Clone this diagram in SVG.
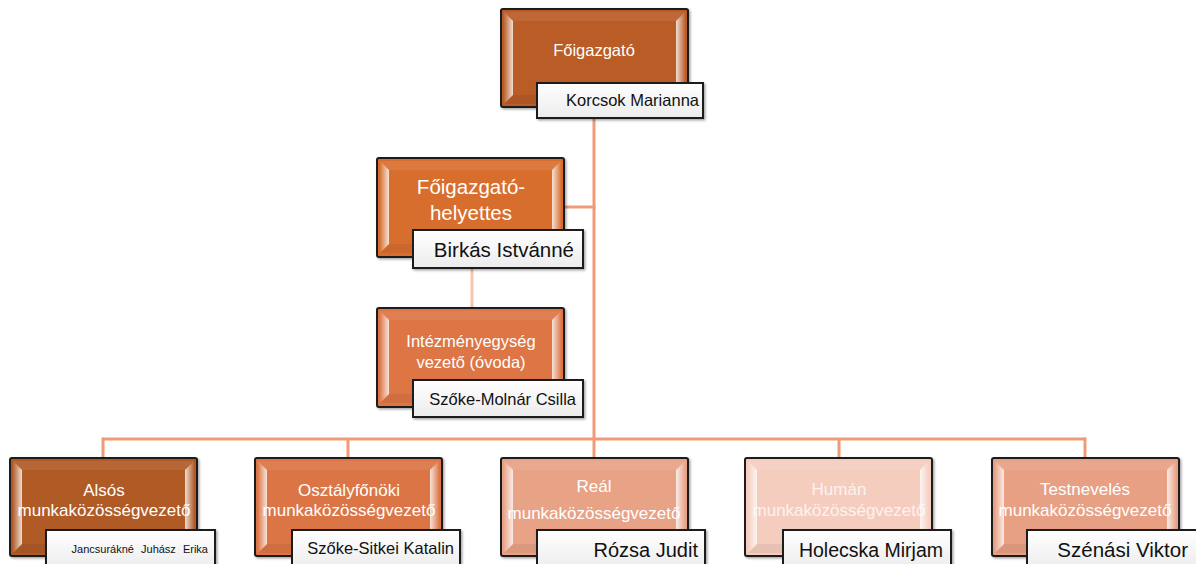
<svg xmlns="http://www.w3.org/2000/svg" xmlns:xlink="http://www.w3.org/1999/xlink" width="1196" height="564" viewBox="0 0 1196 564">
<defs>
<style>
.box{stroke:#1a1a1a;stroke-width:2;filter:url(#sh)}
.name{fill:url(#ng);stroke:#1a1a1a;stroke-width:2;filter:url(#sh)}
.t{font-family:"Liberation Sans",Arial,sans-serif;fill:#ffffff;text-anchor:middle}
.n{font-family:"Liberation Sans",Arial,sans-serif;fill:#111111;text-anchor:end}
.ln{stroke:#F19B76;stroke-width:3;fill:none}
.lp{stroke:#F6C4AE;stroke-width:3;fill:none}
</style>
<linearGradient id="ng" x1="0" y1="0" x2="0" y2="1">
<stop offset="0" stop-color="#ffffff"/>
<stop offset="1" stop-color="#ececec"/>
</linearGradient>
<linearGradient id="lf" x1="0" y1="0" x2="1" y2="0">
<stop offset="0" stop-color="#ffffff" stop-opacity="0.05"/>
<stop offset="1" stop-color="#ffffff" stop-opacity="0.8"/>
</linearGradient>
<linearGradient id="rf" x1="0" y1="0" x2="1" y2="0">
<stop offset="0" stop-color="#ffffff" stop-opacity="0.8"/>
<stop offset="1" stop-color="#ffffff" stop-opacity="0.05"/>
</linearGradient>
<filter id="sh" x="-10%" y="-10%" width="130%" height="130%">
<feDropShadow dx="1.5" dy="1.5" stdDeviation="1.2" flood-color="#000" flood-opacity="0.35"/>
</filter>
<g id="bevel">
<polygon points="3,3 12,12 12,86 3,95" fill="url(#lf)"/>
<polygon points="184,3 175,12 175,86 184,95" fill="url(#rf)"/>
<polygon points="3,3 184,3 175,12 12,12" fill="#ffffff" fill-opacity="0.08"/>
<polygon points="3,95 184,95 175,86 12,86" fill="#000000" fill-opacity="0.06"/>
</g>
</defs>
<rect width="1196" height="564" fill="#ffffff"/>

<g id="connectors">
<line class="ln" x1="594" y1="117" x2="594" y2="458"/>
<line class="ln" x1="564" y1="207" x2="595.5" y2="207"/>
<line class="lp" x1="472" y1="268" x2="472" y2="308"/>
<line class="ln" x1="103" y1="439" x2="1086" y2="439"/>
<line class="ln" x1="103" y1="437.5" x2="103" y2="458"/>
<line class="ln" x1="348" y1="439" x2="348" y2="458"/>
<line class="ln" x1="839" y1="439" x2="839" y2="458"/>
<line class="ln" x1="1085" y1="437.5" x2="1085" y2="458"/>
</g>

<g id="n-foigazgato">
<rect class="box" x="501" y="9" width="187" height="98" rx="2" fill="#B95C26"/>
<use xlink:href="#bevel" x="501" y="9"/>
<text class="t" x="594" y="56" font-size="16.5">Főigazgató</text>
<rect class="name" x="537" y="83" width="166" height="35"/>
<text class="n" x="699" y="106" font-size="16.5">Korcsok Marianna</text>
</g>

<g id="n-helyettes">
<rect class="box" x="377" y="158" width="187" height="99" rx="2" fill="#D86E2D"/>
<use xlink:href="#bevel" x="377" y="158"/>
<text class="t" x="471" y="194" font-size="20.5">Főigazgató-</text>
<text class="t" x="471" y="220" font-size="20.5">helyettes</text>
<rect class="name" x="413" y="230" width="170" height="38"/>
<text class="n" x="574" y="257" font-size="20.5">Birkás Istvánné</text>
</g>

<g id="n-ovoda">
<rect class="box" x="377" y="308" width="187" height="99" rx="2" fill="#DD7445"/>
<use xlink:href="#bevel" x="377" y="308"/>
<text class="t" x="471" y="347" font-size="16.5">Intézményegység</text>
<text class="t" x="471" y="368" font-size="16.5">vezető (óvoda)</text>
<rect class="name" x="413" y="380" width="170" height="37"/>
<text class="n" x="576" y="405" font-size="16.5">Szőke-Molnár Csilla</text>
</g>

<g id="n-also">
<rect class="box" x="10" y="458" width="187" height="98" rx="2" fill="#B05A25"/>
<use xlink:href="#bevel" x="10" y="458"/>
<text class="t" x="104" y="496" font-size="17">Alsós</text>
<text class="t" x="104" y="516" font-size="17">munkaközösségvezető</text>
<rect class="name" x="46" y="530" width="169" height="40"/>
<text class="n" x="208" y="553" font-size="11" word-spacing="4">Jancsurákné Juhász Erika</text>
</g>

<g id="n-osztalyfonoki">
<rect class="box" x="255" y="458" width="187" height="98" rx="2" fill="#DC7445"/>
<use xlink:href="#bevel" x="255" y="458"/>
<text class="t" x="349" y="496" font-size="17">Osztályfőnöki</text>
<text class="t" x="349" y="516" font-size="17">munkaközösségvezető</text>
<rect class="name" x="292" y="530" width="168" height="40"/>
<text class="n" x="454" y="554" font-size="16.5">Szőke-Sitkei Katalin</text>
</g>

<g id="n-real">
<rect class="box" x="501" y="458" width="187" height="98" rx="2" fill="#E8A286"/>
<use xlink:href="#bevel" x="501" y="458"/>
<text class="t" x="594" y="492" font-size="17">Reál</text>
<text class="t" x="594" y="519" font-size="17">munkaközösségvezető</text>
<rect class="name" x="537" y="530" width="168" height="40"/>
<text class="n" x="698" y="557" font-size="20">Rózsa Judit</text>
</g>

<g id="n-human">
<rect class="box" x="745" y="458" width="187" height="98" rx="2" fill="#F5CDBF"/>
<use xlink:href="#bevel" x="745" y="458"/>
<text class="t" x="839" y="495" font-size="17" fill-opacity="0.75">Humán</text>
<text class="t" x="839" y="516" font-size="17" fill-opacity="0.75">munkaközösségvezető</text>
<rect class="name" x="783" y="530" width="168" height="40"/>
<text class="n" x="943" y="557" font-size="19.5">Holecska Mirjam</text>
</g>

<g id="n-testneveles">
<rect class="box" x="992" y="458" width="187" height="98" rx="2" fill="#E8A084"/>
<use xlink:href="#bevel" x="992" y="458"/>
<text class="t" x="1085" y="495" font-size="17">Testnevelés</text>
<text class="t" x="1085" y="516" font-size="17">munkaközösségvezető</text>
<rect class="name" x="1027" y="530" width="170" height="40"/>
<text class="n" x="1188" y="557" font-size="20.5">Szénási Viktor</text>
</g>
</svg>
